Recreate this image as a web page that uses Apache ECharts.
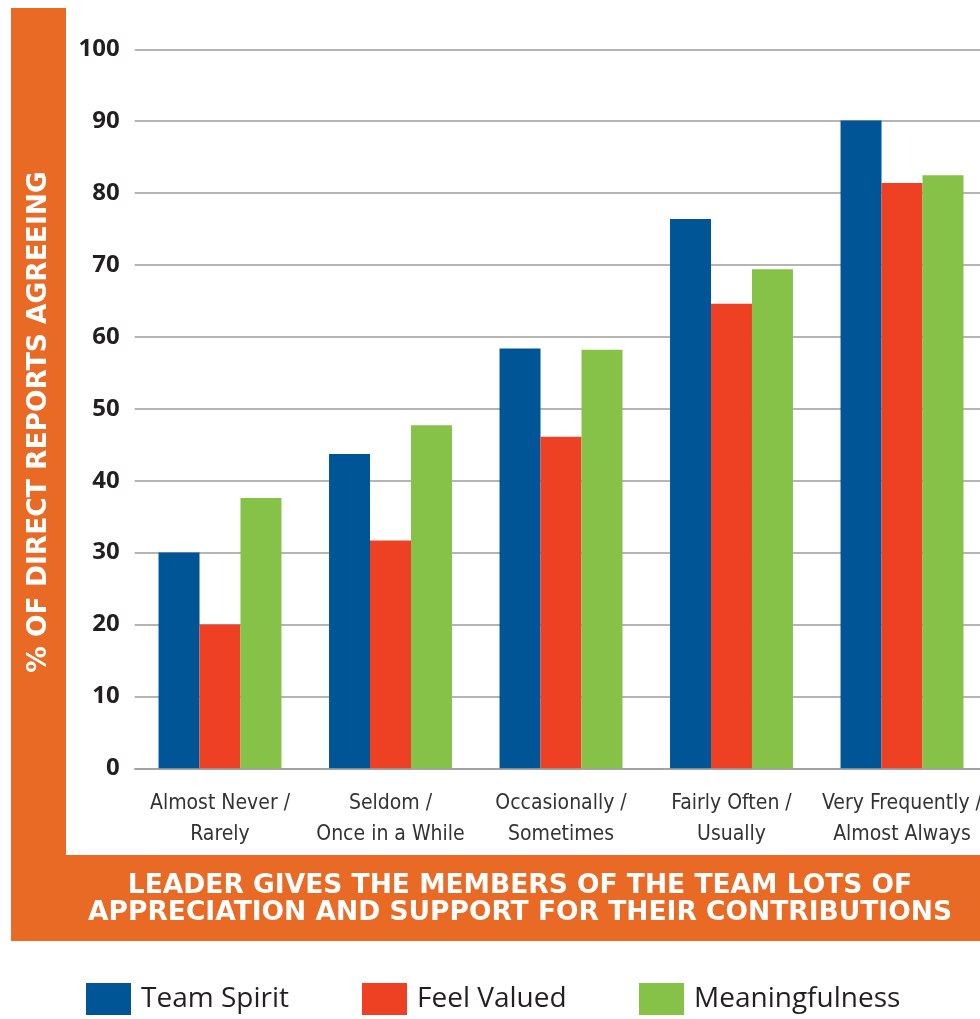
<!DOCTYPE html>
<html>
<head>
<meta charset="utf-8">
<script src="https://cdn.jsdelivr.net/npm/echarts@6/dist/echarts.min.js"></script>
<style>
html,body{margin:0;padding:0;background:#fff;}
#chart{width:980px;height:1019px;}
</style>
</head>
<body>
<div id="chart"></div>
<script>
const categories = [
  "Almost Never /\nRarely",
  "Seldom /\nOnce in a While",
  "Occasionally /\nSometimes",
  "Fairly Often /\nUsually",
  "Very Frequently /\nAlmost Always"
];
const teamSpirit = [30, 43.7, 58.4, 76.4, 90.1];
const feelValued = [20, 31.7, 46.1, 64.6, 81.4];
const meaningfulness = [37.6, 47.7, 58.2, 69.4, 82.5];
const yTicks = [0, 10, 20, 30, 40, 50, 60, 70, 80, 90, 100];
const seriesNames = ["Team Spirit", "Feel Valued", "Meaningfulness"];
const yTitle = "% OF DIRECT REPORTS AGREEING";
const xTitle = "LEADER GIVES THE MEMBERS OF THE TEAM LOTS OF\nAPPRECIATION AND SUPPORT FOR THEIR CONTRIBUTIONS";
const colors = ["#005596", "#EE4123", "#86C247"];

const chart = echarts.init(document.getElementById('chart'));
const legendLefts = [86, 362, 639];
const option = {
  animation: false,
  backgroundColor: '#ffffff',
  graphic: [
    { type: 'rect', z: -100, shape: { x: 11, y: 8, width: 969, height: 933 }, style: { fill: '#E86A25' } },
    { type: 'rect', z: -99, shape: { x: 66, y: 8, width: 914, height: 847 }, style: { fill: '#ffffff' } },
    { type: 'text', z: 10, x: 520, y: 899.5,
      style: { text: xTitle, fill: '#ffffff', font: 'bold 26.5px "DejaVu Sans", sans-serif',
        textAlign: 'center', textVerticalAlign: 'middle', lineHeight: 27 } },
    { type: 'text', z: 10, x: 39, y: 422, rotation: Math.PI / 2,
      style: { text: yTitle, fill: '#ffffff', font: 'bold 26.5px "DejaVu Sans", sans-serif',
        textAlign: 'center', textVerticalAlign: 'middle' } }
  ],
  legend: seriesNames.map((n, i) => ({
    data: [n], left: legendLefts[i], top: 983, itemWidth: 45, itemHeight: 32, itemGap: 0,
    icon: 'rect', padding: 0,
    textStyle: { fontFamily: '"Open Sans", sans-serif', fontWeight: 500, fontSize: 28, color: '#231F20', padding: [0, 0, 0, 5] }
  })),
  grid: { left: 134.75, top: 49.3, width: 852.5, height: 719, containLabel: false, outerBoundsMode: 'none' },
  xAxis: {
    type: 'category', data: categories,
    axisLine: { show: true, lineStyle: { color: '#9d9d9d', width: 1.5 } },
    axisTick: { show: false },
    axisLabel: { interval: 0, margin: 20, fontFamily: '"Liberation Sans Narrow", "DejaVu Sans Condensed", sans-serif',
      fontSize: 21, lineHeight: 31, color: '#333333' }
  },
  yAxis: {
    type: 'value', min: 0, max: 100, interval: 10,
    axisLine: { show: false }, axisTick: { show: false },
    splitLine: { lineStyle: { color: '#9d9d9d', width: 1.5 } },
    axisLabel: { margin: 15, fontFamily: '"Open Sans", sans-serif', fontWeight: 700, fontSize: 24, color: '#231F20',
      formatter: v => yTicks.includes(v) ? String(v) : '' }
  },
  series: [teamSpirit, feelValued, meaningfulness].map((d, i) => ({
    name: seriesNames[i], type: 'bar', data: d, barGap: '0%', barCategoryGap: '27.9%',
    itemStyle: { color: colors[i] }
  }))
};
chart.setOption(option);
</script>
</body>
</html>
